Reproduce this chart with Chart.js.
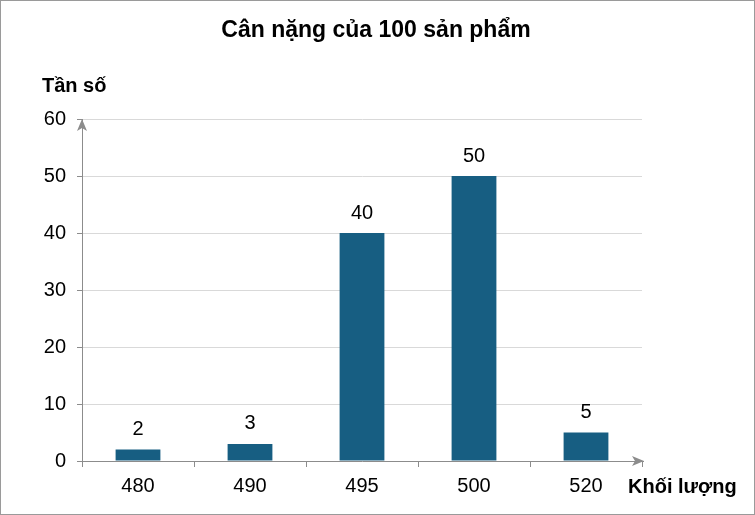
<!DOCTYPE html>
<html lang="vi">
<head>
    <meta charset="UTF-8">
    <title>Cân nặng của 100 sản phẩm</title>
    <script src="https://cdn.jsdelivr.net/npm/chart.js"></script>
    <style>
        html, body { margin: 0; padding: 0; background: #fff; }
        #wrap { width: 755px; height: 515px; position: relative; }
    </style>
</head>
<body>
    <div id="wrap"><canvas id="chart" width="755" height="515"></canvas></div>

    <script>
        // Data
        const categories = ['480', '490', '495', '500', '520'];
        const frequencies = [2, 3, 40, 50, 5];
        const yTicks = [0, 10, 20, 30, 40, 50, 60];

        const titleText = 'Cân nặng của 100 sản phẩm';
        const yAxisLabel = 'Tần số';
        const xAxisLabel = 'Khối lượng';

        const FONT = '"Liberation Sans", Arial, sans-serif';
        const AXIS = '#8c8c8c';

        // Title, axis names, arrows, value labels, frame
        const decorations = {
            id: 'decorations',
            afterDraw(chart) {
                const c = chart.ctx;
                const area = chart.chartArea;
                c.save();

                // frame
                c.strokeStyle = '#9a9a9a';
                c.lineWidth = 1;
                c.strokeRect(0.5, 0.5, chart.width - 1, chart.height - 1);

                // title
                c.fillStyle = '#000';
                c.textAlign = 'center';
                c.textBaseline = 'middle';
                c.font = 'bold 23px ' + FONT;
                c.fillText(titleText, 376, 31);

                // axis names
                c.font = 'bold 20px ' + FONT;
                c.textAlign = 'left';
                c.fillText(yAxisLabel, 42, 86);
                c.fillText(xAxisLabel, 628, 487);

                // arrow heads
                c.fillStyle = AXIS;
                const ax = area.left, ay = area.bottom;
                c.beginPath();
                c.moveTo(ax, area.top);
                c.lineTo(ax - 5, area.top + 12);
                c.lineTo(ax, area.top + 9);
                c.lineTo(ax + 5, area.top + 12);
                c.closePath();
                c.fill();
                c.strokeStyle = AXIS;
                c.beginPath();
                c.moveTo(area.right, ay + 0.5);
                c.lineTo(area.right + 2, ay + 0.5);
                c.stroke();
                const tip = area.right + 2;
                c.beginPath();
                c.moveTo(tip, ay);
                c.lineTo(tip - 12, ay - 5);
                c.lineTo(tip - 9, ay);
                c.lineTo(tip - 12, ay + 5);
                c.closePath();
                c.fill();

                // value labels
                c.fillStyle = '#000';
                c.font = '20px ' + FONT;
                c.textAlign = 'center';
                c.textBaseline = 'bottom';
                const meta = chart.getDatasetMeta(0);
                meta.data.forEach((bar, i) => {
                    c.fillText(String(frequencies[i]), bar.x, bar.y - 10);
                });
                c.restore();
            }
        };

        const ctx = document.getElementById('chart').getContext('2d');
        new Chart(ctx, {
            type: 'bar',
            data: {
                labels: categories,
                datasets: [{
                    data: frequencies,
                    backgroundColor: '#175e82',
                    barPercentage: 0.4,
                    categoryPercentage: 1.0
                }]
            },
            options: {
                responsive: false,
                animation: false,
                layout: { padding: { left: 0, top: 119, right: 113, bottom: 0 } },
                plugins: {
                    legend: { display: false },
                    tooltip: { enabled: false },
                    title: { display: false }
                },
                scales: {
                    x: {
                        offset: true,
                        grid: {
                            offset: true,
                            drawOnChartArea: false,
                            drawTicks: true,
                            tickLength: 6,
                            tickColor: AXIS
                        },
                        border: { color: AXIS, width: 1 },
                        ticks: {
                            color: '#000',
                            font: { family: FONT, size: 20 },
                            padding: 7
                        },
                        afterFit(scale) { scale.height = 54; }
                    },
                    y: {
                        min: 0,
                        max: 60,
                        afterBuildTicks(scale) {
                            scale.ticks = yTicks.map(v => ({ value: v }));
                        },
                        grid: {
                            color: '#d9d9d9',
                            tickColor: AXIS,
                            tickLength: 5
                        },
                        border: { color: AXIS, width: 1 },
                        ticks: {
                            color: '#000',
                            font: { family: FONT, size: 20 },
                            padding: 11
                        },
                        afterFit(scale) { scale.width = 82; }
                    }
                }
            },
            plugins: [decorations]
        });
    </script>
</body>
</html>
